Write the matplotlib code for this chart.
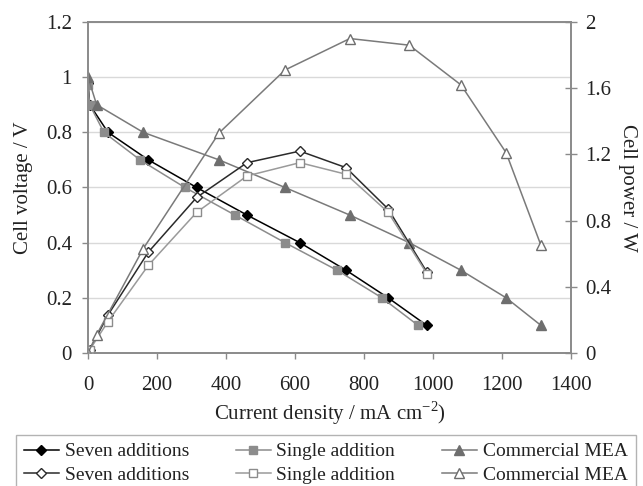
import matplotlib
matplotlib.use("Agg")
import matplotlib.pyplot as plt

# ---- data ----
seven_j = [0, 5, 58, 175, 315, 461, 614, 748, 870, 982]
seven_v = [0.98, 0.90, 0.80, 0.70, 0.60, 0.50, 0.40, 0.30, 0.20, 0.10]
seven_p = [0.0, 0.02, 0.23, 0.61, 0.94, 1.15, 1.22, 1.12, 0.87, 0.49]

single_j = [0, 5, 46, 151, 281, 426, 571, 722, 852, 957]
single_v = [0.97, 0.90, 0.80, 0.70, 0.60, 0.50, 0.40, 0.30, 0.20, 0.10]
single_pj = [0, 5, 58, 175, 315, 461, 614, 748, 870, 982]
single_p = [0.0, 0.02, 0.19, 0.53, 0.85, 1.07, 1.15, 1.08, 0.85, 0.48]

comm_j = [0, 25, 160, 380, 571, 759, 931, 1081, 1212, 1313]
comm_v = [1.00, 0.90, 0.80, 0.70, 0.60, 0.50, 0.40, 0.30, 0.20, 0.10]
comm_p = [0.0, 0.11, 0.63, 1.33, 1.71, 1.90, 1.86, 1.62, 1.21, 0.65]

x_ticks = [0, 200, 400, 600, 800, 1000, 1200, 1400]
yl_ticks = [0, 0.2, 0.4, 0.6, 0.8, 1.0, 1.2]
yl_labels = ["0", "0.2", "0.4", "0.6", "0.8", "1", "1.2"]
yr_ticks = [0, 0.4, 0.8, 1.2, 1.6, 2.0]
yr_labels = ["0", "0.4", "0.8", "1.2", "1.6", "2"]

plt.rcParams['font.family'] = ['Liberation Serif', 'DejaVu Serif']
FS = 15
LFS = 14
TXT = '#222222'
SP = '#8a8a8a'

fig = plt.figure(figsize=(6.43, 4.86), dpi=100)
ax = fig.add_axes([88/643, 1-353/486, (571-88)/643, (353-22)/486])
ax2 = ax.twinx()

lw = 1.1
h1, = ax.plot(seven_j, seven_v, color='#000000', lw=lw, marker='D', ms=5,
              mfc='#000000', mec='#000000', label='Seven additions')
h3, = ax.plot(single_j, single_v, color='#8c8c8c', lw=lw, marker='s', ms=6,
              mfc='#8c8c8c', mec='#8c8c8c', label='Single addition')
h5, = ax.plot(comm_j, comm_v, color='#7a7a7a', lw=lw, marker='^', ms=7,
              mfc='#6e6e6e', mec='#6e6e6e', label='Commercial MEA')

h2, = ax2.plot(seven_j, seven_p, color='#2a2a2a', lw=lw, marker='D', ms=5,
               mfc='white', mec='#2a2a2a', mew=1.0, label='Seven additions')
h4, = ax2.plot(single_pj, single_p, color='#9a9a9a', lw=lw, marker='s', ms=6,
               mfc='white', mec='#8c8c8c', mew=1.0, label='Single addition')
h6, = ax2.plot(comm_j, comm_p, color='#7a7a7a', lw=lw, marker='^', ms=7,
               mfc='white', mec='#6e6e6e', mew=1.0, label='Commercial MEA')

ax.set_xlim(0, 1400)
ax.set_ylim(0, 1.2)
ax2.set_ylim(0, 2)
ax.set_xticks(x_ticks)
ax.set_xticklabels([str(t) for t in x_ticks])
ax.set_yticks(yl_ticks)
ax.set_yticklabels(yl_labels)
ax2.set_yticks(yr_ticks)
ax2.set_yticklabels(yr_labels)

ax.grid(axis='y', color='#d9d9d9', lw=1.0)
ax.set_axisbelow(True)

for a in (ax, ax2):
    for s in a.spines.values():
        s.set_color(SP)
        s.set_linewidth(1.2)

ax.tick_params(axis='y', direction='out', length=4.5, width=1, color=SP,
               labelsize=FS, labelcolor=TXT, pad=7)
ax.tick_params(axis='x', direction='out', length=4.5, width=1, color=SP,
               labelsize=FS, labelcolor=TXT, pad=12)
ax2.tick_params(axis='y', direction='inout', length=9, width=1, color=SP,
                labelsize=FS, labelcolor=TXT, pad=6)

ax.set_ylabel('Cell voltage / V', fontsize=FS, color=TXT, labelpad=9)
ax2.set_ylabel('Cell power / W', fontsize=FS, color=TXT, rotation=270, labelpad=18)
ax.set_xlabel('Current density / mA cm$^{\\mathregular{-2}}$)', fontsize=FS,
              color=TXT, labelpad=3)

leg = fig.legend([h1, h2, h3, h4, h5, h6],
                 ['Seven additions', 'Seven additions', 'Single addition',
                  'Single addition', 'Commercial MEA', 'Commercial MEA'],
                 loc='upper left', bbox_to_anchor=(16/643, 1-435/486),
                 ncol=3, fontsize=LFS, frameon=True, fancybox=False,
                 edgecolor='#a0a0a0', borderpad=0.4, labelspacing=0.3,
                 handlelength=1.8, handletextpad=0.3, columnspacing=2.4,
                 borderaxespad=0)
leg.get_frame().set_linewidth(1.0)
for t in leg.get_texts():
    t.set_color(TXT)

fig.savefig('out.png', dpi=100)
